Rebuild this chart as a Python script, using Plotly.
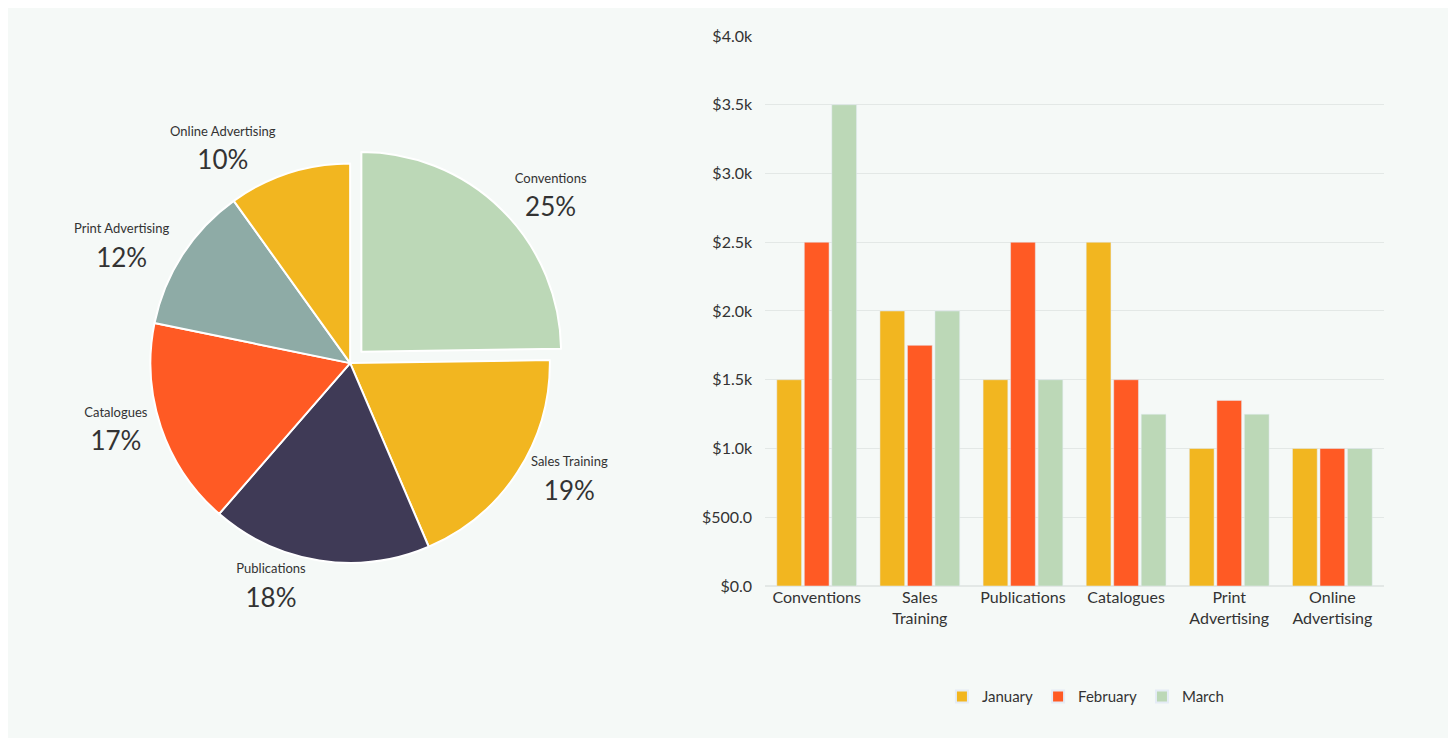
import plotly.graph_objects as go

BG = "#F5F9F7"
FONT = "Lato"

# pie data
pie_labels = ["Conventions", "Sales Training", "Publications", "Catalogues",
              "Print Advertising", "Online Advertising"]
pie_values = [25, 19, 18, 17, 12, 10]
pie_colors = ["#BCD8B7", "#F2B620", "#3F3A56", "#FF5A24", "#8EABA6", "#F2B620"]

# bar data
categories = ["Conventions", "Sales<br>Training", "Publications", "Catalogues",
              "Print<br>Advertising", "Online<br>Advertising"]
january = [1500, 2000, 1500, 2500, 1000, 1000]
february = [2500, 1750, 2500, 1500, 1350, 1000]
march = [3500, 2000, 1500, 1250, 1250, 1000]
y_ticks = [0, 500, 1000, 1500, 2000, 2500, 3000, 3500, 4000]
y_tick_text = ["$0.0", "$500.0", "$1.0k", "$1.5k", "$2.0k", "$2.5k", "$3.0k", "$3.5k", "$4.0k"]

fig = go.Figure()

fig.add_trace(go.Pie(
    labels=pie_labels, values=pie_values, sort=False, direction="clockwise",
    rotation=0, pull=[0.08, 0, 0, 0, 0, 0],
    marker=dict(colors=pie_colors, line=dict(color="white", width=2)),
    textposition="outside",
    texttemplate="<span style='font-size:13px'>%{label}</span><br>%{percent:.0%}",
    textfont=dict(family=FONT, size=26, color="#333333"),
    domain=dict(x=[0.08, 0.39], y=[0.22, 0.82]),
    showlegend=False, hoverinfo="label+percent",
))

for name, vals, col in [("January", january, "#F2B620"),
                        ("February", february, "#FF5A24"),
                        ("March", march, "#BCD8B7")]:
    fig.add_trace(go.Bar(x=categories, y=vals, name=name, marker_color=col))

fig.update_layout(
    width=1456, height=738, paper_bgcolor=BG, plot_bgcolor=BG,
    margin=dict(l=0, r=0, t=0, b=0),
    font=dict(family=FONT, color="#333333"),
    barmode="group", bargap=0.2, bargroupgap=0.1,
    xaxis=dict(domain=[0.52, 0.945], tickfont=dict(size=16), showline=False,
               anchor="y"),
    yaxis=dict(domain=[0.21, 0.975], range=[0, 4000], tickvals=y_ticks,
               ticktext=y_tick_text, gridcolor="#E3E8E6", zeroline=True,
               zerolinecolor="#E3E8E6", tickfont=dict(size=16), ticks="",
               ticklabelstandoff=12),
    legend=dict(orientation="h", x=0.74, xanchor="center", y=0.056,
                yanchor="middle", font=dict(size=15), itemsizing="constant"),
)

fig.write_html("out.html")
